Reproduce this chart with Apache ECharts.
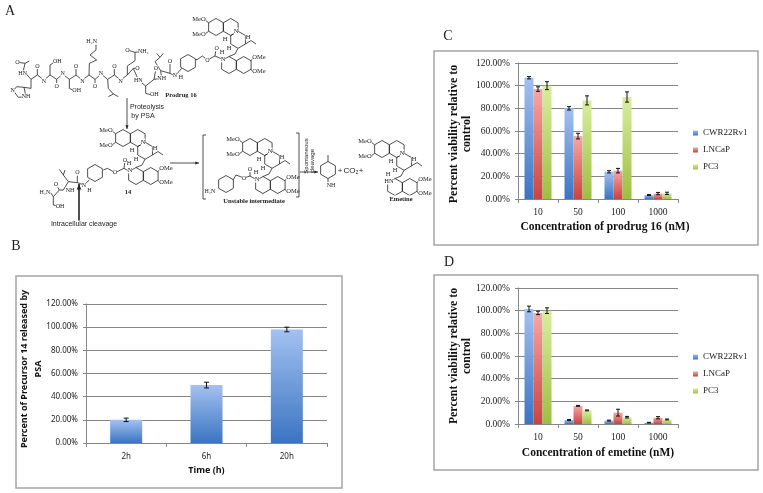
<!DOCTYPE html>
<html>
<head>
<meta charset="utf-8">
<style>
html, body { margin: 0; padding: 0; background: #fff; }
#main { width: 763px; height: 493px; }
</style>
</head>
<body>
<div id="main"></div>
<script src="https://cdn.jsdelivr.net/npm/echarts@6/dist/echarts.min.js"></script>
<script>
// panel B
const timeCats = ['2h', '6h', '20h'];
const releaseVals = [20, 50, 98];
const releaseErr = [1.5, 2.5, 2];

// panel C + D
const concCats = ['10', '50', '100', '1000'];
const cellNames = ['CWR22Rv1', 'LNCaP', 'PC3'];

const prodrugCwr = [107, 80, 24, 3.5];
const prodrugLncap = [97, 55.5, 25, 4.8];
const prodrugPc3 = [100, 87, 90, 5];
const prodrugCwrErr = [1, 1.5, 1, 0.5];
const prodrugLncapErr = [2, 2.5, 2, 1];
const prodrugPc3Err = [3.5, 4, 4.5, 1];

const emetineCwr = [101.5, 3.5, 3, 1.2];
const emetineLncap = [98, 16, 10, 5.5];
const emetinePc3 = [100, 12, 6, 4];
const emetineCwrErr = [2.5, 0.5, 0.4, 0.3];
const emetineLncapErr = [1.5, 0.4, 3, 1];
const emetinePc3Err = [2.5, 0.4, 0.7, 0.4];

const SERIF = '"Liberation Serif", serif';
const SANS = '"Noto Sans", sans-serif';
const GREY = '#868686';

const fills = [
    ['#a3c1f0', '#3b74c2'],
    ['#f5a8a6', '#c9433f'],
    ['#d8ee9f', '#9dbe43']
];

function grad(c) {
    return new echarts.graphic.LinearGradient(0, 0, 0, 1, [
        { offset: 0, color: c[0] },
        { offset: 1, color: c[1] }
    ]);
}

// error bar drawn as custom series, shifted to sit on its bar
function errSeries(vals, errs, axisIdx, offset, cap) {
    return {
        type: 'custom',
        name: 'err',
        xAxisIndex: axisIdx,
        yAxisIndex: axisIdx,
        z: 5,
        silent: true,
        encode: { x: 0, y: [1, 2] },
        data: vals.map((v, i) => [i, v - errs[i], v + errs[i]]),
        renderItem(params, api) {
            const x = api.coord([api.value(0), 0])[0] + offset;
            const lo = api.coord([api.value(0), api.value(1)])[1];
            const hi = api.coord([api.value(0), api.value(2)])[1];
            const style = { stroke: '#111', lineWidth: 1, fill: null };
            return {
                type: 'group',
                children: [
                    { type: 'line', shape: { x1: x, y1: lo, x2: x, y2: hi }, style },
                    { type: 'line', shape: { x1: x - cap, y1: lo, x2: x + cap, y2: lo }, style },
                    { type: 'line', shape: { x1: x - cap, y1: hi, x2: x + cap, y2: hi }, style }
                ]
            };
        }
    };
}

function barSeries(name, vals, axisIdx, fill, barW) {
    return {
        type: 'bar',
        name,
        xAxisIndex: axisIdx,
        yAxisIndex: axisIdx,
        data: vals,
        barWidth: barW,
        barGap: 0,
        itemStyle: { color: grad(fill) },
        z: 3
    };
}

function makeX(cats, gridIndex, name, font, size, nameSize, gap, labelGap, namePad) {
    return {
        type: 'category',
        gridIndex,
        data: cats,
        name,
        nameLocation: 'middle',
        nameGap: gap,
        nameMoveOverlap: false,
        nameTextStyle: { fontFamily: font, fontWeight: 'bold', fontSize: nameSize, color: '#111', padding: namePad || 0 },
        axisLine: { lineStyle: { color: GREY } },
        axisTick: { show: true, alignWithLabel: false, length: 4, lineStyle: { color: GREY } },
        axisLabel: { fontFamily: font, fontSize: size, color: '#222', margin: labelGap, interval: 0 },
        splitLine: { show: false }
    };
}

function makeY(gridIndex, name, font, size, nameSize, gap, lineH, namePad) {
    return {
        type: 'value',
        gridIndex,
        min: 0,
        max: 120,
        interval: 20,
        name,
        nameLocation: 'middle',
        nameRotate: 90,
        nameGap: gap,
        nameMoveOverlap: false,
        nameTextStyle: { fontFamily: font, fontWeight: 'bold', fontSize: nameSize, color: '#111', lineHeight: lineH, padding: namePad || 0 },
        axisLine: { show: true, lineStyle: { color: GREY } },
        axisTick: { show: true, length: 3, lineStyle: { color: GREY } },
        axisLabel: { fontFamily: font, fontSize: size, color: '#222', margin: 8, formatter: v => v.toFixed(2) + '%' },
        splitLine: { show: true, lineStyle: { color: GREY, width: 1 } }
    };
}

function makeLegend(top) {
    return {
        data: cellNames,
        orient: 'vertical',
        left: 693,
        top,
        padding: 0,
        icon: 'rect',
        itemWidth: 5,
        itemHeight: 5,
        itemGap: 8,
        selectedMode: false,
        textStyle: { fontFamily: SERIF, fontSize: 9, color: '#222' }
    };
}

// ---- scheme in panel A (drawn, not data) ----
const HEX_R = 8.5;
const HEX_W = HEX_R * Math.cos(Math.PI / 6);

function line(points, width) {
    return {
        type: 'polyline',
        shape: { points },
        style: { stroke: '#222', lineWidth: width || 0.8, fill: null }
    };
}

function hex(cx, cy) {
    const pts = [];
    for (let i = 0; i <= 6; i++) {
        const a = Math.PI / 3 * i - Math.PI / 2;
        pts.push([cx + HEX_R * Math.cos(a), cy + HEX_R * Math.sin(a)]);
    }
    return line(pts);
}

function label(text, x, y, size, opt) {
    return {
        type: 'text',
        x, y,
        style: Object.assign({
            text, fill: '#222',
            font: (size || 6.5) + 'px ' + SERIF,
            align: 'center', verticalAlign: 'middle',
            backgroundColor: '#fff'
        }, opt || {})
    };
}

// emetine skeleton, anchored at centre of its upper benzene ring
function emetine(ox, oy, nLabel) {
    return [
        hex(ox, oy),
        hex(ox + 2 * HEX_W, oy),
        hex(ox + 3 * HEX_W, oy + 12.75),
        hex(ox + 13, oy + 38),
        hex(ox + 13 + 2 * HEX_W, oy + 38),
        line([[ox - HEX_W, oy - 4.25], [ox - 11, oy - 7]]),
        line([[ox - HEX_W, oy + 4.25], [ox - 11, oy + 7]]),
        line([[ox + 29.4, oy + 17], [ox + 35, oy + 13.5], [ox + 40, oy + 17]]),
        line([[ox + 22, oy + 21.25], [ox + 19, oy + 27], [ox + 13, oy + 29.5]]),
        line([[ox + 13 + 3 * HEX_W, oy + 33.75], [ox + 37, oy + 31]]),
        line([[ox + 13 + 3 * HEX_W, oy + 42.25], [ox + 37, oy + 45]]),
        label('MeO', ox - 17, oy - 8),
        label('MeO', ox - 17, oy + 7),
        label('N', ox + 20, oy + 4),
        label('H', ox + 9, oy + 12),
        label('H', ox + 13, oy + 21),
        label('H', ox + 32, oy + 10),
        label('H', ox + 6, oy + 25),
        label(nLabel || 'N', ox + 7, oy + 32),
        label('OMe', ox + 43, oy + 30),
        label('OMe', ox + 43, oy + 44)
    ];
}

function scheme() {
    // bond paths read at 3x from the reference crop
    const bonds3x = [
        // prodrug chain
        [[88, 183], [75, 190], [70, 212], [93, 238], [112, 225], [132, 240], [150, 225], [170, 238], [188, 222], [208, 238], [228, 225], [247, 240], [267, 225], [285, 238], [303, 222], [323, 238], [343, 225], [362, 240], [382, 225], [400, 205], [415, 240], [437, 258], [462, 238], [485, 235], [482, 212], [510, 220], [525, 228], [545, 205]],
        [[75, 190], [55, 187]],
        [[112, 225], [112, 198]],
        [[170, 238], [170, 258]],
        [[228, 225], [228, 198]],
        [[285, 238], [285, 258]],
        [[343, 225], [343, 198]],
        [[400, 205], [412, 205]],
        [[462, 238], [468, 205]],
        [[510, 220], [510, 183]],
        // side chains
        [[150, 225], [150, 195], [165, 185]],
        [[208, 238], [208, 265], [222, 272]],
        [[437, 258], [437, 280], [455, 285]],
        [[93, 238], [93, 265], [72, 262], [50, 260], [40, 272], [55, 292], [78, 290], [72, 262]],
        [[267, 225], [268, 190], [290, 180], [270, 165], [288, 150], [288, 130]],
        [[382, 225], [382, 198], [405, 182], [405, 157], [382, 150]],
        [[405, 157], [420, 155]],
        [[323, 238], [325, 265], [340, 282], [325, 290]],
        [[340, 282], [355, 290]],
        [[482, 212], [465, 185], [480, 172], [470, 160]],
        [[480, 172], [490, 160]],
        [[590, 180], [607, 168], [622, 180], [645, 168], [668, 178]],
        [[645, 168], [648, 145]],
        // compound 14
        [[152, 578], [160, 590], [178, 570], [190, 570], [205, 545], [232, 548], [252, 555], [268, 540]],
        [[178, 570], [168, 553]],
        [[160, 590], [160, 615], [175, 618]],
        [[232, 548], [232, 518]],
        [[205, 545], [190, 525], [195, 510]],
        [[190, 525], [178, 508]],
        [[310, 510], [322, 505], [345, 518], [372, 505], [395, 518]],
        [[372, 505], [375, 480]]
    ];
    const out = bonds3x.map(p => line(p.map(q => [q[0] / 3, q[1] / 3])));

    // phenyl linkers
    out.push(hex(188, 63), hex(95, 173), hex(226, 184));
    out.push(line([[196, 59], [197, 60]]));

    // unstable intermediate linker
    out.push(line([[233, 180], [236, 175], [244, 178], [250, 176], [257, 180]]));
    out.push(line([[250, 176], [250, 169]]));

    out.push(...emetine(216, 27));
    out.push(...emetine(123, 138));
    out.push(...emetine(250, 147));
    out.push(...emetine(382, 149, 'HN'));

    // arrows
    const arrow = (x1, y1, x2, y2, w, size) => {
        const a = Math.atan2(y2 - y1, x2 - x1), s = size || 4;
        return [
            line([[x1, y1], [x2, y2]], w || 0.8),
            {
                type: 'polygon',
                shape: { points: [[x2, y2],
                    [x2 - s * Math.cos(a - 0.4), y2 - s * Math.sin(a - 0.4)],
                    [x2 - s * Math.cos(a + 0.4), y2 - s * Math.sin(a + 0.4)]] },
                style: { fill: '#222' }
            }
        ];
    };
    out.push(...arrow(127, 98, 127, 129));
    out.push(...arrow(79, 223, 79, 184, 1.6, 6));
    out.push(...arrow(170, 163, 199, 163));
    out.push(...arrow(300, 172, 318, 172));

    // brackets round the intermediate
    out.push(line([[206, 135], [203, 135], [203, 199], [206, 199]]));
    out.push(line([[296, 133], [299, 133], [299, 197], [296, 197]]));

    // quinone methide
    out.push(hex(328, 170));
    out.push(line([[328, 161.5], [328, 155]]));
    out.push(line([[328, 178.5], [328, 182]]));

    const letters = [['A', 10, 11, 14], ['B', 16, 246, 14], ['C', 448, 36, 14], ['D', 449, 262, 14]];
    letters.forEach(t => out.push(label(t[0], t[1], t[2], t[3])));

    const boldSm = { font: 'bold 6.5px ' + SERIF };
    out.push(label('Prodrug 16', 181, 95, 6.5, boldSm));
    out.push(label('14', 128, 192, 6.5, boldSm));
    out.push(label('Unstable intermediate', 254, 201, 6.5, boldSm));
    out.push(label('Emetine', 401, 199, 6.5, boldSm));

    const sans = s => ({ font: s + 'px "Liberation Sans", sans-serif' });
    out.push(label('Proteolysis', 147, 107, 7, sans(7)));
    out.push(label('by PSA', 143, 116, 7, sans(7)));
    out.push(label('Intracellular cleavage', 84, 224, 7, sans(7)));
    out.push(label('+', 340, 171, 8, sans(8)));
    out.push(label('CO\u2082', 351, 171, 8, sans(8)));
    out.push(label('+', 361, 171, 8, sans(8)));
    out.push(label('NH', 331, 185, 6));

    const vertical = (t, x, y) => ({
        type: 'text', x, y, rotation: Math.PI / 2,
        style: { text: t, fill: '#222', font: '6px "Liberation Sans", sans-serif', align: 'center', verticalAlign: 'middle' }
    });
    out.push(vertical('Spontaneous', 306, 156), vertical('cleavage', 312, 161));

    // atom labels [text, x, y] at 3x
    const atoms3x = [
        ['O', 52, 187], ['HN', 68, 220], ['N', 38, 272], ['NH', 78, 290],
        ['O', 112, 198], ['N', 132, 243], ['O', 170, 258], ['OH', 172, 183],
        ['N', 188, 220], ['O', 228, 198], ['OH', 230, 272], ['N', 247, 243],
        ['O', 285, 258], ['H\u2082N', 275, 125], ['N', 303, 220], ['O', 343, 198],
        ['N', 362, 243], ['O', 382, 150], ['NH\u2082', 430, 155], ['O', 412, 205],
        ['HN', 415, 240], ['OH', 463, 283], ['O', 468, 205], ['NH', 485, 235],
        ['O', 510, 183], ['N', 525, 225], ['H', 543, 232], ['O', 622, 180], ['O', 650, 145],
        ['H\u2082N', 135, 578], ['O', 168, 553], ['NH', 210, 572], ['OH', 180, 618],
        ['O', 232, 518], ['N', 252, 556], ['H', 268, 570], ['O', 345, 518], ['O', 375, 480]
    ];
    atoms3x.forEach(a => out.push(label(a[0], a[1] / 3, a[2] / 3, 6)));
    out.push(label('H\u2082N', 210, 191, 6));
    out.push(label('O', 244, 178, 6), label('O', 250, 169, 6));
    return out;
}

function frame(x, y, w, h) {
    return {
        type: 'rect',
        z: -1,
        shape: { x, y, width: w, height: h },
        style: { fill: '#fff', stroke: '#a5a5a5', lineWidth: 1.5 }
    };
}

const chart = echarts.init(document.getElementById('main'));

const cBarW = 9;
const bBarW = 32;

const option = {
    animation: false,
    backgroundColor: '#fff',
    grid: [
        { left: 86, top: 304, width: 241, height: 139 },
        { left: 518, top: 63, width: 160, height: 136 },
        { left: 518, top: 288, width: 160, height: 136 }
    ],
    xAxis: [
        makeX(timeCats, 0, 'Time (h)', SANS, 8, 9, 23, 10),
        makeX(concCats, 1, 'Concentration of prodrug 16 (nM)', SERIF, 9.5, 11.5, 22, 8, [0, 0, 0, 14]),
        makeX(concCats, 2, 'Concentration of emetine (nM)', SERIF, 9.5, 11.5, 23, 8)
    ],
    yAxis: [
        makeY(0, 'Percent of Precursor 14 released by\nPSA', SANS, 8, 9, 41, 14, [0, 0, 0, 9]),
        makeY(1, 'Percent viability relative to\ncontrol', SERIF, 9.5, 12, 44, 13.5, [0, 6, 0, 0]),
        makeY(2, 'Percent viability relative to\ncontrol', SERIF, 9.5, 11.8, 44, 13.5)
    ],
    legend: [makeLegend(128.5), makeLegend(352.5)],
    graphic: { elements: [
        frame(16, 276, 326, 212),
        frame(434, 51, 324, 194),
        frame(434, 275, 324, 195)
    ].concat(scheme()) },
    series: [
        barSeries('Precursor 14', releaseVals, 0, fills[0], bBarW),
        errSeries(releaseVals, releaseErr, 0, 0, 2.5),

        barSeries(cellNames[0], prodrugCwr, 1, fills[0], cBarW),
        barSeries(cellNames[1], prodrugLncap, 1, fills[1], cBarW),
        barSeries(cellNames[2], prodrugPc3, 1, fills[2], cBarW),
        errSeries(prodrugCwr, prodrugCwrErr, 1, -cBarW, 2),
        errSeries(prodrugLncap, prodrugLncapErr, 1, 0, 2),
        errSeries(prodrugPc3, prodrugPc3Err, 1, cBarW, 2),

        barSeries(cellNames[0], emetineCwr, 2, fills[0], cBarW),
        barSeries(cellNames[1], emetineLncap, 2, fills[1], cBarW),
        barSeries(cellNames[2], emetinePc3, 2, fills[2], cBarW),
        errSeries(emetineCwr, emetineCwrErr, 2, -cBarW, 2),
        errSeries(emetineLncap, emetineLncapErr, 2, 0, 2),
        errSeries(emetinePc3, emetinePc3Err, 2, cBarW, 2)
    ]
};

chart.setOption(option);
</script>
</body>
</html>
